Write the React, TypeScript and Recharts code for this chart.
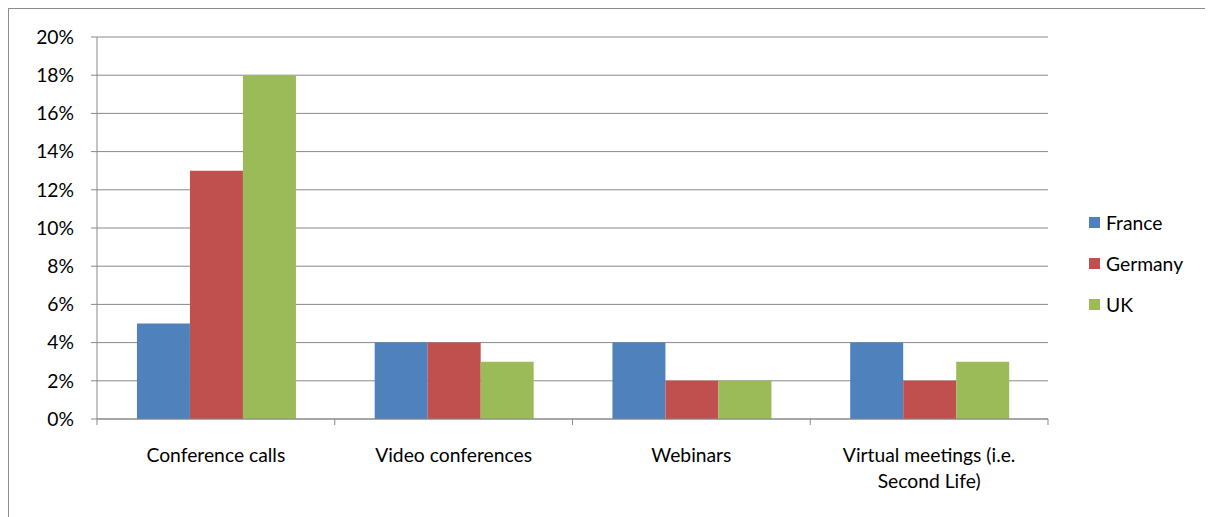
import React from 'react';
import { BarChart, Bar, XAxis, YAxis, CartesianGrid, Legend } from 'recharts';

const categories = ['Conference calls', 'Video conferences', 'Webinars', 'Virtual meetings (i.e. Second Life)'];
const france = [5, 4, 4, 4];
const germany = [13, 4, 2, 2];
const uk = [18, 3, 2, 3];
const yTicks = [0, 2, 4, 6, 8, 10, 12, 14, 16, 18, 20];
const seriesNames = ['France', 'Germany', 'UK'];
const seriesColors = ['#4F81BD', '#C0504D', '#9BBB59'];

const data = categories.map((c, i) => ({ name: c, France: france[i], Germany: germany[i], UK: uk[i] }));

const FONT = 'Lato, "Open Sans", sans-serif';
const AXIS = '#898989';
const FS = 19.3;
const MAX_CHARS = 24;

function wrap(label: string): string[] {
  const words = label.split(' ');
  const lines: string[] = [];
  let cur = '';
  for (const w of words) {
    const next = cur ? cur + ' ' + w : w;
    if (next.length > MAX_CHARS && cur) {
      lines.push(cur);
      cur = w;
    } else {
      cur = next;
    }
  }
  if (cur) lines.push(cur);
  return lines;
}

const XTick = (props: any) => {
  const { x, y, payload, index, visibleTicksCount, width } = props;
  const band = width / visibleTicksCount;
  const left = x - band / 2;
  const right = x + band / 2;
  const lines = wrap(String(payload.value));
  return (
    <g>
      <line x1={left} y1={y - 8} x2={left} y2={y - 2} stroke={AXIS} strokeWidth={1} />
      {index === visibleTicksCount - 1 && (
        <line x1={right} y1={y - 8} x2={right} y2={y - 2} stroke={AXIS} strokeWidth={1} />
      )}
      <text x={x} y={y + 21} textAnchor="middle" fontSize={FS} fontFamily={FONT} fill="#000">
        {lines.map((l, i) => (
          <tspan key={i} x={x} dy={i === 0 ? '0.71em' : 26}>{l}</tspan>
        ))}
      </text>
    </g>
  );
};

const LegendContent = () => (
  <div style={{ paddingLeft: 41, paddingTop: 2, fontFamily: FONT, fontSize: FS, color: '#000' }}>
    {seriesNames.map((n, i) => (
      <div key={n} style={{ display: 'flex', alignItems: 'center', height: 41 }}>
        <span style={{ display: 'inline-block', width: 11, height: 11, background: seriesColors[i], marginRight: 6 }} />
        <span>{n}</span>
      </div>
    ))}
  </div>
);

export default function App() {
  return (
    <div style={{ width: 1202, height: 530, border: '1px solid #8c8c8c', background: '#fff' }}>
      <BarChart width={1202} height={507} data={data} margin={{ top: 28, right: 0, bottom: 37, left: 0 }} barCategoryGap="16.8%" barGap={0}>
        <CartesianGrid vertical={false} stroke={AXIS} strokeDasharray="" />
        <XAxis dataKey="name" height={60} axisLine={{ stroke: AXIS }} tickLine={false} tick={<XTick />} interval={0} />
        <YAxis width={88} domain={[0, 20]} ticks={yTicks} interval={0} tickFormatter={(v: number) => `${v}%`} axisLine={{ stroke: AXIS }} tickLine={{ stroke: AXIS }} tickSize={6} tickMargin={17} tick={{ fill: '#000', fontSize: FS, fontFamily: FONT }} />
        <Legend layout="vertical" align="right" verticalAlign="middle" content={<LegendContent />} wrapperStyle={{ width: 163 }} />
        {seriesNames.map((n, i) => (
          <Bar key={n} dataKey={n} fill={seriesColors[i]} isAnimationActive={false} />
        ))}
      </BarChart>
    </div>
  );
}
